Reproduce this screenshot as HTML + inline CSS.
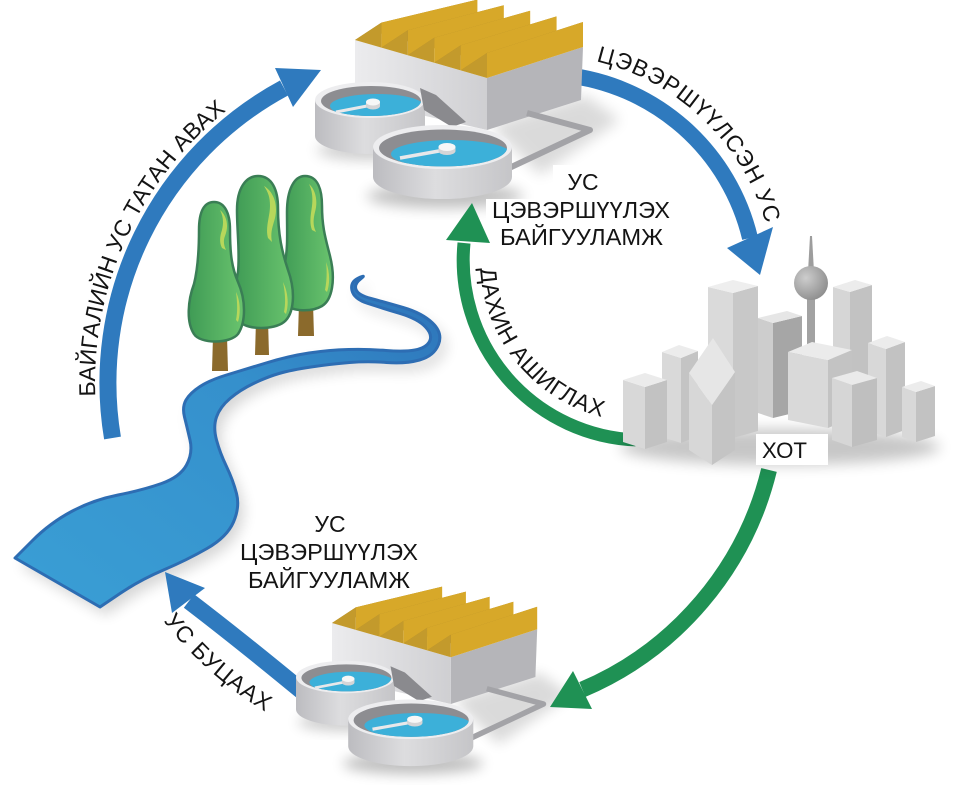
<!DOCTYPE html>
<html><head><meta charset="utf-8"><style>
html,body{margin:0;padding:0;background:#fff;}
svg{display:block;}
text{font-family:"Liberation Sans","DejaVu Sans",sans-serif;fill:#141414;}
</style></head><body>
<svg width="955" height="788" viewBox="0 0 955 788" xmlns="http://www.w3.org/2000/svg">
<defs>
<filter id="bl" x="-50%" y="-50%" width="200%" height="200%"><feGaussianBlur stdDeviation="7"/></filter>
<linearGradient id="wallg" x1="0" y1="0" x2="1" y2="0"><stop offset="0" stop-color="#ececee"/><stop offset="1" stop-color="#cfcfd2"/></linearGradient>
<linearGradient id="tankg" x1="0" y1="0" x2="1" y2="0"><stop offset="0" stop-color="#bcbcc0"/><stop offset=".45" stop-color="#dddddf"/><stop offset="1" stop-color="#c5c5c8"/></linearGradient>
<linearGradient id="treeg" x1="0" y1="0" x2="1" y2="0"><stop offset="0" stop-color="#3f9b55"/><stop offset="1" stop-color="#6ac46e"/></linearGradient>
<linearGradient id="riverg" x1="0" y1="1" x2="1" y2="0"><stop offset="0" stop-color="#3a9fd5"/><stop offset=".6" stop-color="#3590cc"/><stop offset="1" stop-color="#2d72b8"/></linearGradient>
<radialGradient id="sph" cx=".35" cy=".35" r=".75"><stop offset="0" stop-color="#cdcdcd"/><stop offset="1" stop-color="#8a8a8a"/></radialGradient>
<clipPath id="c1"><ellipse cx="371" cy="101" rx="50" ry="15"/></clipPath>
<clipPath id="c2"><ellipse cx="443" cy="148" rx="64" ry="18.5"/></clipPath>
<path id="tpR" d="M596,61.3 A233,233 0 0 1 766,223.8"/>
<path id="tpL" d="M95.3,396.4 A348,348 0 0 1 226.4,110.7"/>
<path id="tpG" d="M480.2,268.5 A162,162 0 0 0 601.7,416.9"/>
<path id="tpB" d="M163.5,620.9 A371,371 0 0 0 265.4,711.7"/>
</defs>

<!-- river -->
<path transform="translate(6,8)" fill="#000" opacity=".16" filter="url(#bl)" d="M15,558 L32.5,540.5 Q50,523 71.5,511.5 Q93,500 118,495 Q143,490 161.5,483.5 Q180,477 186.5,465 Q193,453 190,440 Q187,427 184.5,417 Q182,407 186,400 Q190,393 200,386.5 Q210,380 226.5,375 Q243,370 266,363 Q289,356 309,353 Q329,350 348.5,349.5 Q368,349 386,350.5 Q404,352 415,350 Q426,348 429.5,341.5 Q433,335 425.5,327 Q418,319 400,313.5 Q382,308 368,303.5 Q354,299 352,290.5 Q350,282 358.5,278 Q367,274 360.5,279 Q354,284 356,289.5 Q358,295 371,298.5 Q384,302 403,307.5 Q422,313 432.5,323 Q443,333 438.5,344.5 Q434,356 419.5,360 Q405,364 386.5,362.5 Q368,361 349.5,362.5 Q331,364 311,367 Q291,370 279,373.5 Q267,377 253.5,383.5 Q240,390 230,398.5 Q220,407 216.5,417 Q213,427 216.5,440 Q220,453 226.5,466.5 Q233,480 236.5,493.5 Q240,507 233.5,522 Q227,537 207,548.5 Q187,560 163.5,570 Q140,580 120,593.5 L100,607 Z"/>
<path fill="url(#riverg)" stroke="#2d6db3" stroke-width="3" stroke-linejoin="round" d="M15,558 L32.5,540.5 Q50,523 71.5,511.5 Q93,500 118,495 Q143,490 161.5,483.5 Q180,477 186.5,465 Q193,453 190,440 Q187,427 184.5,417 Q182,407 186,400 Q190,393 200,386.5 Q210,380 226.5,375 Q243,370 266,363 Q289,356 309,353 Q329,350 348.5,349.5 Q368,349 386,350.5 Q404,352 415,350 Q426,348 429.5,341.5 Q433,335 425.5,327 Q418,319 400,313.5 Q382,308 368,303.5 Q354,299 352,290.5 Q350,282 358.5,278 Q367,274 360.5,279 Q354,284 356,289.5 Q358,295 371,298.5 Q384,302 403,307.5 Q422,313 432.5,323 Q443,333 438.5,344.5 Q434,356 419.5,360 Q405,364 386.5,362.5 Q368,361 349.5,362.5 Q331,364 311,367 Q291,370 279,373.5 Q267,377 253.5,383.5 Q240,390 230,398.5 Q220,407 216.5,417 Q213,427 216.5,440 Q220,453 226.5,466.5 Q233,480 236.5,493.5 Q240,507 233.5,522 Q227,537 207,548.5 Q187,560 163.5,570 Q140,580 120,593.5 L100,607 Z"/>

<!-- trees -->
<polygon points="299,303 313,303 314,336 298,336" fill="#8b6a2c"/>
<polygon points="256,320 268,320 269,355 255,355" fill="#8b6a2c"/>
<polygon points="213,336 227,336 228,371 212,371" fill="#8b6a2c"/>
<path d="M305,176 C318,176 322,190 322,206 C322,228 326,240 330,256 C336,280 332,300 322,306 C312,312 292,312 286,304 C280,296 282,278 285,262 C288,248 287,232 287,212 C287,190 294,176 305,176 Z" fill="url(#treeg)" stroke="#3a7e55" stroke-width="2.5"/>
<path d="M309,184 C316,190 318,202 315,212 C313,220 313,226 316,232 L312,230 C309,222 311,214 312,206 C313,197 312,190 309,184 Z M326,262 C330,272 330,284 327,292 L325,290 C327,280 327,270 326,262 Z" fill="#b7d75b"/>
<path d="M258,176 C272,176 278,190 278,208 C278,235 282,252 288,270 C296,292 294,314 284,322 C274,330 248,330 240,322 C232,312 234,292 238,272 C240,252 237,232 237,210 C237,188 246,176 258,176 Z" fill="url(#treeg)" stroke="#3a7e55" stroke-width="2.5"/>
<path d="M264,186 C274,192 278,205 275,218 C273,226 270,232 272,242 L268,238 C265,228 270,216 270,206 C270,197 268,192 264,186 Z M283,282 C288,292 289,304 286,314 L284,312 C286,302 285,292 283,282 Z" fill="#b7d75b"/>
<path d="M214,202 C224,202 230,212 230,230 C230,255 232,268 238,282 C246,300 246,322 238,334 C230,344 200,344 194,334 C186,322 188,300 194,284 C198,268 199,250 199,230 C199,212 204,202 214,202 Z" fill="url(#treeg)" stroke="#3a7e55" stroke-width="2.5"/>
<path d="M220,210 C227,216 229,226 225,236 C223,241 224,246 226,250 L222,248 C219,242 220,236 222,230 C224,222 223,216 220,210 Z M236,292 C240,300 241,312 238,322 L236,320 C238,310 237,300 236,292 Z" fill="#b7d75b"/>

<!-- factory shadows -->
<g>
<ellipse cx="445" cy="196" rx="78" ry="12" fill="#000" opacity=".25" filter="url(#bl)"/>
<ellipse cx="372" cy="150" rx="55" ry="10" fill="#000" opacity=".2" filter="url(#bl)"/>
<polygon points="490,125 585,95 620,120 540,175" fill="#000" opacity=".14" filter="url(#bl)"/>
</g>
<g transform="translate(12.5,587) scale(0.9)">
<ellipse cx="445" cy="196" rx="78" ry="12" fill="#000" opacity=".25" filter="url(#bl)"/>
<ellipse cx="372" cy="150" rx="55" ry="10" fill="#000" opacity=".2" filter="url(#bl)"/>
<polygon points="490,125 585,95 620,120 540,175" fill="#000" opacity=".14" filter="url(#bl)"/>
</g>
<rect x="553" y="165" width="122" height="36" fill="#fff"/>
<rect x="486" y="199" width="189" height="53" fill="#fff"/>

<!-- arrows -->
<path d="M112.5,438 A335,335 0 0 1 284,88" fill="none" stroke="#2f7abe" stroke-width="17"/>
<polygon points="275,68 321,70 293,107" fill="#2f7abe"/>
<path d="M565,75 A214,214 0 0 1 750,238" fill="none" stroke="#2f7abe" stroke-width="16"/>
<polygon points="727,248 773,227 760,275" fill="#2f7abe"/>
<path d="M769,470 A321,321 0 0 1 582.4,689.5" fill="none" stroke="#1f9154" stroke-width="16"/>
<polygon points="573,671 592,709 550,707" fill="#1f9154"/>
<path d="M303,692 Q240,640 189,601" fill="none" stroke="#2f7abe" stroke-width="17"/>
<polygon points="165,572 205,588 172,613" fill="#2f7abe"/>
<path d="M635.7,439.9 A180,180 0 0 1 464,243" fill="none" stroke="#1f9154" stroke-width="13"/>
<polygon points="446,240 490,243 472,203" fill="#1f9154"/>

<!-- top factory -->
<g>
<polygon points="487,78 583,47 581,100 487,130" fill="#b5b5b9"/>
<polygon points="355,40 487,78 487,130 355,100" fill="url(#wallg)"/>
<polygon points="355,40 381.4,22.6 477.4,-0.4 451,17" fill="#a7842e"/>
<polygon points="381.4,22.6 381.4,47.6 477.4,24.6 477.4,-0.4" fill="#d7a829"/>
<polygon points="355,40 381.4,22.6 381.4,47.6" fill="#c39a2c"/>
<polygon points="381.4,47.6 407.8,30.2 503.8,5.2 477.4,22.6" fill="#a7842e"/>
<polygon points="407.8,30.2 407.8,55.2 503.8,30.2 503.8,5.2" fill="#d7a829"/>
<polygon points="381.4,47.6 407.8,30.2 407.8,55.2" fill="#c39a2c"/>
<polygon points="407.8,55.2 434.2,37.8 530.2,10.8 503.8,28.2" fill="#a7842e"/>
<polygon points="434.2,37.8 434.2,62.8 530.2,35.8 530.2,10.8" fill="#d7a829"/>
<polygon points="407.8,55.2 434.2,37.8 434.2,62.8" fill="#c39a2c"/>
<polygon points="434.2,62.8 460.6,45.4 556.6,16.4 530.2,33.8" fill="#a7842e"/>
<polygon points="460.6,45.4 460.6,70.4 556.6,41.4 556.6,16.4" fill="#d7a829"/>
<polygon points="434.2,62.8 460.6,45.4 460.6,70.4" fill="#c39a2c"/>
<polygon points="460.6,70.4 487,53 583,22 556.6,39.4" fill="#a7842e"/>
<polygon points="487,53 487,78 583,47 583,22" fill="#d7a829"/>
<polygon points="460.6,70.4 487,53 487,78" fill="#c39a2c"/>
<path d="M315,100 L315,136 A55,18 0 0 0 425,136 L425,100 Z" fill="url(#tankg)"/>
<ellipse cx="370" cy="100" rx="55" ry="18" fill="#ededef"/>
<ellipse cx="371" cy="101" rx="50" ry="15" fill="#8d8d91"/>
<ellipse cx="377" cy="106" rx="47" ry="12" fill="#3cb0d9" clip-path="url(#c1)"/>
<line x1="367" y1="106" x2="336" y2="112" stroke="#e8e8ea" stroke-width="3"/>
<ellipse cx="373" cy="106" rx="7" ry="3.5" fill="#d5d5d7"/>
<rect x="366" y="102" width="14" height="4" fill="#d5d5d7"/>
<ellipse cx="373" cy="102" rx="7" ry="3.5" fill="#f7f7f7"/>
<polygon points="420,88 436,95 466,122 452,127 424,110" fill="#8a8a8e"/>
<polyline points="527,113 590,130 505,170" fill="none" stroke="#a3a3a7" stroke-width="6" stroke-linejoin="round"/>
<path d="M373,147 L373,177 A69.5,22 0 0 0 512,177 L512,147 Z" fill="url(#tankg)"/>
<ellipse cx="442.5" cy="147" rx="69.5" ry="22" fill="#ededef"/>
<ellipse cx="443" cy="148" rx="64" ry="18.5" fill="#8d8d91"/>
<ellipse cx="451" cy="154" rx="60" ry="14" fill="#3cb0d9" clip-path="url(#c2)"/>
<line x1="439" y1="151" x2="400" y2="158" stroke="#e8e8ea" stroke-width="3.5"/>
<ellipse cx="447" cy="151" rx="8.5" ry="4" fill="#d5d5d7"/>
<rect x="438.5" y="147" width="17" height="4" fill="#d5d5d7"/>
<ellipse cx="447" cy="147" rx="8.5" ry="4" fill="#f7f7f7"/>
</g>

<!-- bottom factory -->
<g transform="translate(12.5,587) scale(0.9)">
<polygon points="487,78 583,47 581,100 487,130" fill="#b5b5b9"/>
<polygon points="355,40 487,78 487,130 355,100" fill="url(#wallg)"/>
<polygon points="355,40 381.4,22.6 477.4,-0.4 451,17" fill="#a7842e"/>
<polygon points="381.4,22.6 381.4,47.6 477.4,24.6 477.4,-0.4" fill="#d7a829"/>
<polygon points="355,40 381.4,22.6 381.4,47.6" fill="#c39a2c"/>
<polygon points="381.4,47.6 407.8,30.2 503.8,5.2 477.4,22.6" fill="#a7842e"/>
<polygon points="407.8,30.2 407.8,55.2 503.8,30.2 503.8,5.2" fill="#d7a829"/>
<polygon points="381.4,47.6 407.8,30.2 407.8,55.2" fill="#c39a2c"/>
<polygon points="407.8,55.2 434.2,37.8 530.2,10.8 503.8,28.2" fill="#a7842e"/>
<polygon points="434.2,37.8 434.2,62.8 530.2,35.8 530.2,10.8" fill="#d7a829"/>
<polygon points="407.8,55.2 434.2,37.8 434.2,62.8" fill="#c39a2c"/>
<polygon points="434.2,62.8 460.6,45.4 556.6,16.4 530.2,33.8" fill="#a7842e"/>
<polygon points="460.6,45.4 460.6,70.4 556.6,41.4 556.6,16.4" fill="#d7a829"/>
<polygon points="434.2,62.8 460.6,45.4 460.6,70.4" fill="#c39a2c"/>
<polygon points="460.6,70.4 487,53 583,22 556.6,39.4" fill="#a7842e"/>
<polygon points="487,53 487,78 583,47 583,22" fill="#d7a829"/>
<polygon points="460.6,70.4 487,53 487,78" fill="#c39a2c"/>
<path d="M315,100 L315,136 A55,18 0 0 0 425,136 L425,100 Z" fill="url(#tankg)"/>
<ellipse cx="370" cy="100" rx="55" ry="18" fill="#ededef"/>
<ellipse cx="371" cy="101" rx="50" ry="15" fill="#8d8d91"/>
<ellipse cx="377" cy="106" rx="47" ry="12" fill="#3cb0d9" clip-path="url(#c1)"/>
<line x1="367" y1="106" x2="336" y2="112" stroke="#e8e8ea" stroke-width="3"/>
<ellipse cx="373" cy="106" rx="7" ry="3.5" fill="#d5d5d7"/>
<rect x="366" y="102" width="14" height="4" fill="#d5d5d7"/>
<ellipse cx="373" cy="102" rx="7" ry="3.5" fill="#f7f7f7"/>
<polygon points="420,88 436,95 466,122 452,127 424,110" fill="#8a8a8e"/>
<polyline points="527,113 590,130 505,170" fill="none" stroke="#a3a3a7" stroke-width="6" stroke-linejoin="round"/>
<path d="M373,147 L373,177 A69.5,22 0 0 0 512,177 L512,147 Z" fill="url(#tankg)"/>
<ellipse cx="442.5" cy="147" rx="69.5" ry="22" fill="#ededef"/>
<ellipse cx="443" cy="148" rx="64" ry="18.5" fill="#8d8d91"/>
<ellipse cx="451" cy="154" rx="60" ry="14" fill="#3cb0d9" clip-path="url(#c2)"/>
<line x1="439" y1="151" x2="400" y2="158" stroke="#e8e8ea" stroke-width="3.5"/>
<ellipse cx="447" cy="151" rx="8.5" ry="4" fill="#d5d5d7"/>
<rect x="438.5" y="147" width="17" height="4" fill="#d5d5d7"/>
<ellipse cx="447" cy="147" rx="8.5" ry="4" fill="#f7f7f7"/>
</g>

<!-- city -->
<ellipse cx="780" cy="447" rx="160" ry="18" fill="#000" opacity=".22" filter="url(#bl)"/>
<polygon points="833,287 850,292 850,392 833,387" fill="#d6d6d6"/>
<polygon points="850,292 872,285 872,385 850,392" fill="#c2c2c2"/>
<polygon points="833,287 850,292 872,285 855,280" fill="#ececec"/>
<polygon points="810,236 812,236 814,272 808,272" fill="#9d9d9d"/>
<rect x="807" y="296" width="8" height="55" fill="#a2a2a2"/>
<circle cx="811" cy="283" r="17" fill="url(#sph)"/>
<polygon points="758,318 773,323 773,418 758,413" fill="#cdcdcd"/>
<polygon points="773,323 802,316 802,411 773,418" fill="#a6a6a6"/>
<polygon points="758,318 773,323 802,316 787,311" fill="#e6e6e6"/>
<polygon points="708,287 733,293 733,438 708,432" fill="#dadada"/>
<polygon points="733,293 758,286 758,431 733,438" fill="#c8c8c8"/>
<polygon points="708,287 733,293 758,286 733,280" fill="#eeeeee"/>
<polygon points="788,352 828,360 828,428 788,420" fill="#d9d9d9"/>
<polygon points="828,360 852,350 852,418 828,428" fill="#c3c3c3"/>
<polygon points="788,352 828,360 852,350 812,342" fill="#ebebeb"/>
<polygon points="868,343 886,349 886,437 868,431" fill="#d8d8d8"/>
<polygon points="886,349 905,342 905,430 886,437" fill="#c2c2c2"/>
<polygon points="868,343 886,349 905,342 887,336" fill="#ececec"/>
<polygon points="832,378 852,385 852,447 832,440" fill="#d6d6d6"/>
<polygon points="852,385 877,378 877,440 852,447" fill="#bfbfbf"/>
<polygon points="832,378 852,385 877,378 857,371" fill="#eaeaea"/>
<polygon points="902,387 916,392 916,442 902,437" fill="#d8d8d8"/>
<polygon points="916,392 935,386 935,436 916,442" fill="#c2c2c2"/>
<polygon points="902,387 916,392 935,386 921,381" fill="#ececec"/>
<polygon points="662,352 681,358 681,443 662,437" fill="#d9d9d9"/>
<polygon points="681,358 698,351 698,436 681,443" fill="#c4c4c4"/>
<polygon points="662,352 681,358 698,351 679,345" fill="#ececec"/>
<polygon points="623,380 645,387 645,449 623,442" fill="#d8d8d8"/>
<polygon points="645,387 667,380 667,442 645,449" fill="#c2c2c2"/>
<polygon points="623,380 645,387 667,380 645,373" fill="#ebebeb"/>
<polygon points="689,373 712,405 712,465 689,450" fill="#d7d7d7"/>
<polygon points="712,405 735,372 735,450 712,465" fill="#c4c4c4"/>
<polygon points="713,338 735,372 712,405 689,373" fill="#e6e6e6"/>
<rect x="756" y="434" width="72" height="31" fill="#fff"/>

<!-- labels -->
<text x="762" y="458" font-size="22" textLength="45" lengthAdjust="spacingAndGlyphs">ХОТ</text>
<text x="583" y="190" font-size="23" text-anchor="middle">УС</text>
<text x="492" y="218" font-size="23" textLength="178" lengthAdjust="spacingAndGlyphs">ЦЭВЭРШҮҮЛЭХ</text>
<text x="500" y="245" font-size="23" textLength="163" lengthAdjust="spacingAndGlyphs">БАЙГУУЛАМЖ</text>
<text x="330" y="532" font-size="23" text-anchor="middle">УС</text>
<text x="240" y="560" font-size="23" textLength="178" lengthAdjust="spacingAndGlyphs">ЦЭВЭРШҮҮЛЭХ</text>
<text x="248" y="588" font-size="23" textLength="162" lengthAdjust="spacingAndGlyphs">БАЙГУУЛАМЖ</text>

<text font-size="23"><textPath href="#tpR" textLength="246" lengthAdjust="spacing">ЦЭВЭРШҮҮЛСЭН УС</textPath></text>
<text font-size="23"><textPath href="#tpL" textLength="326" lengthAdjust="spacing">БАЙГАЛИЙН УС ТАТАН АВАХ</textPath></text>
<text font-size="23"><textPath href="#tpG" textLength="205" lengthAdjust="spacing">ДАХИН АШИГЛАХ</textPath></text>
<text font-size="23"><textPath href="#tpB" textLength="137" lengthAdjust="spacing">УС БУЦААХ</textPath></text>
</svg>
</body></html>
